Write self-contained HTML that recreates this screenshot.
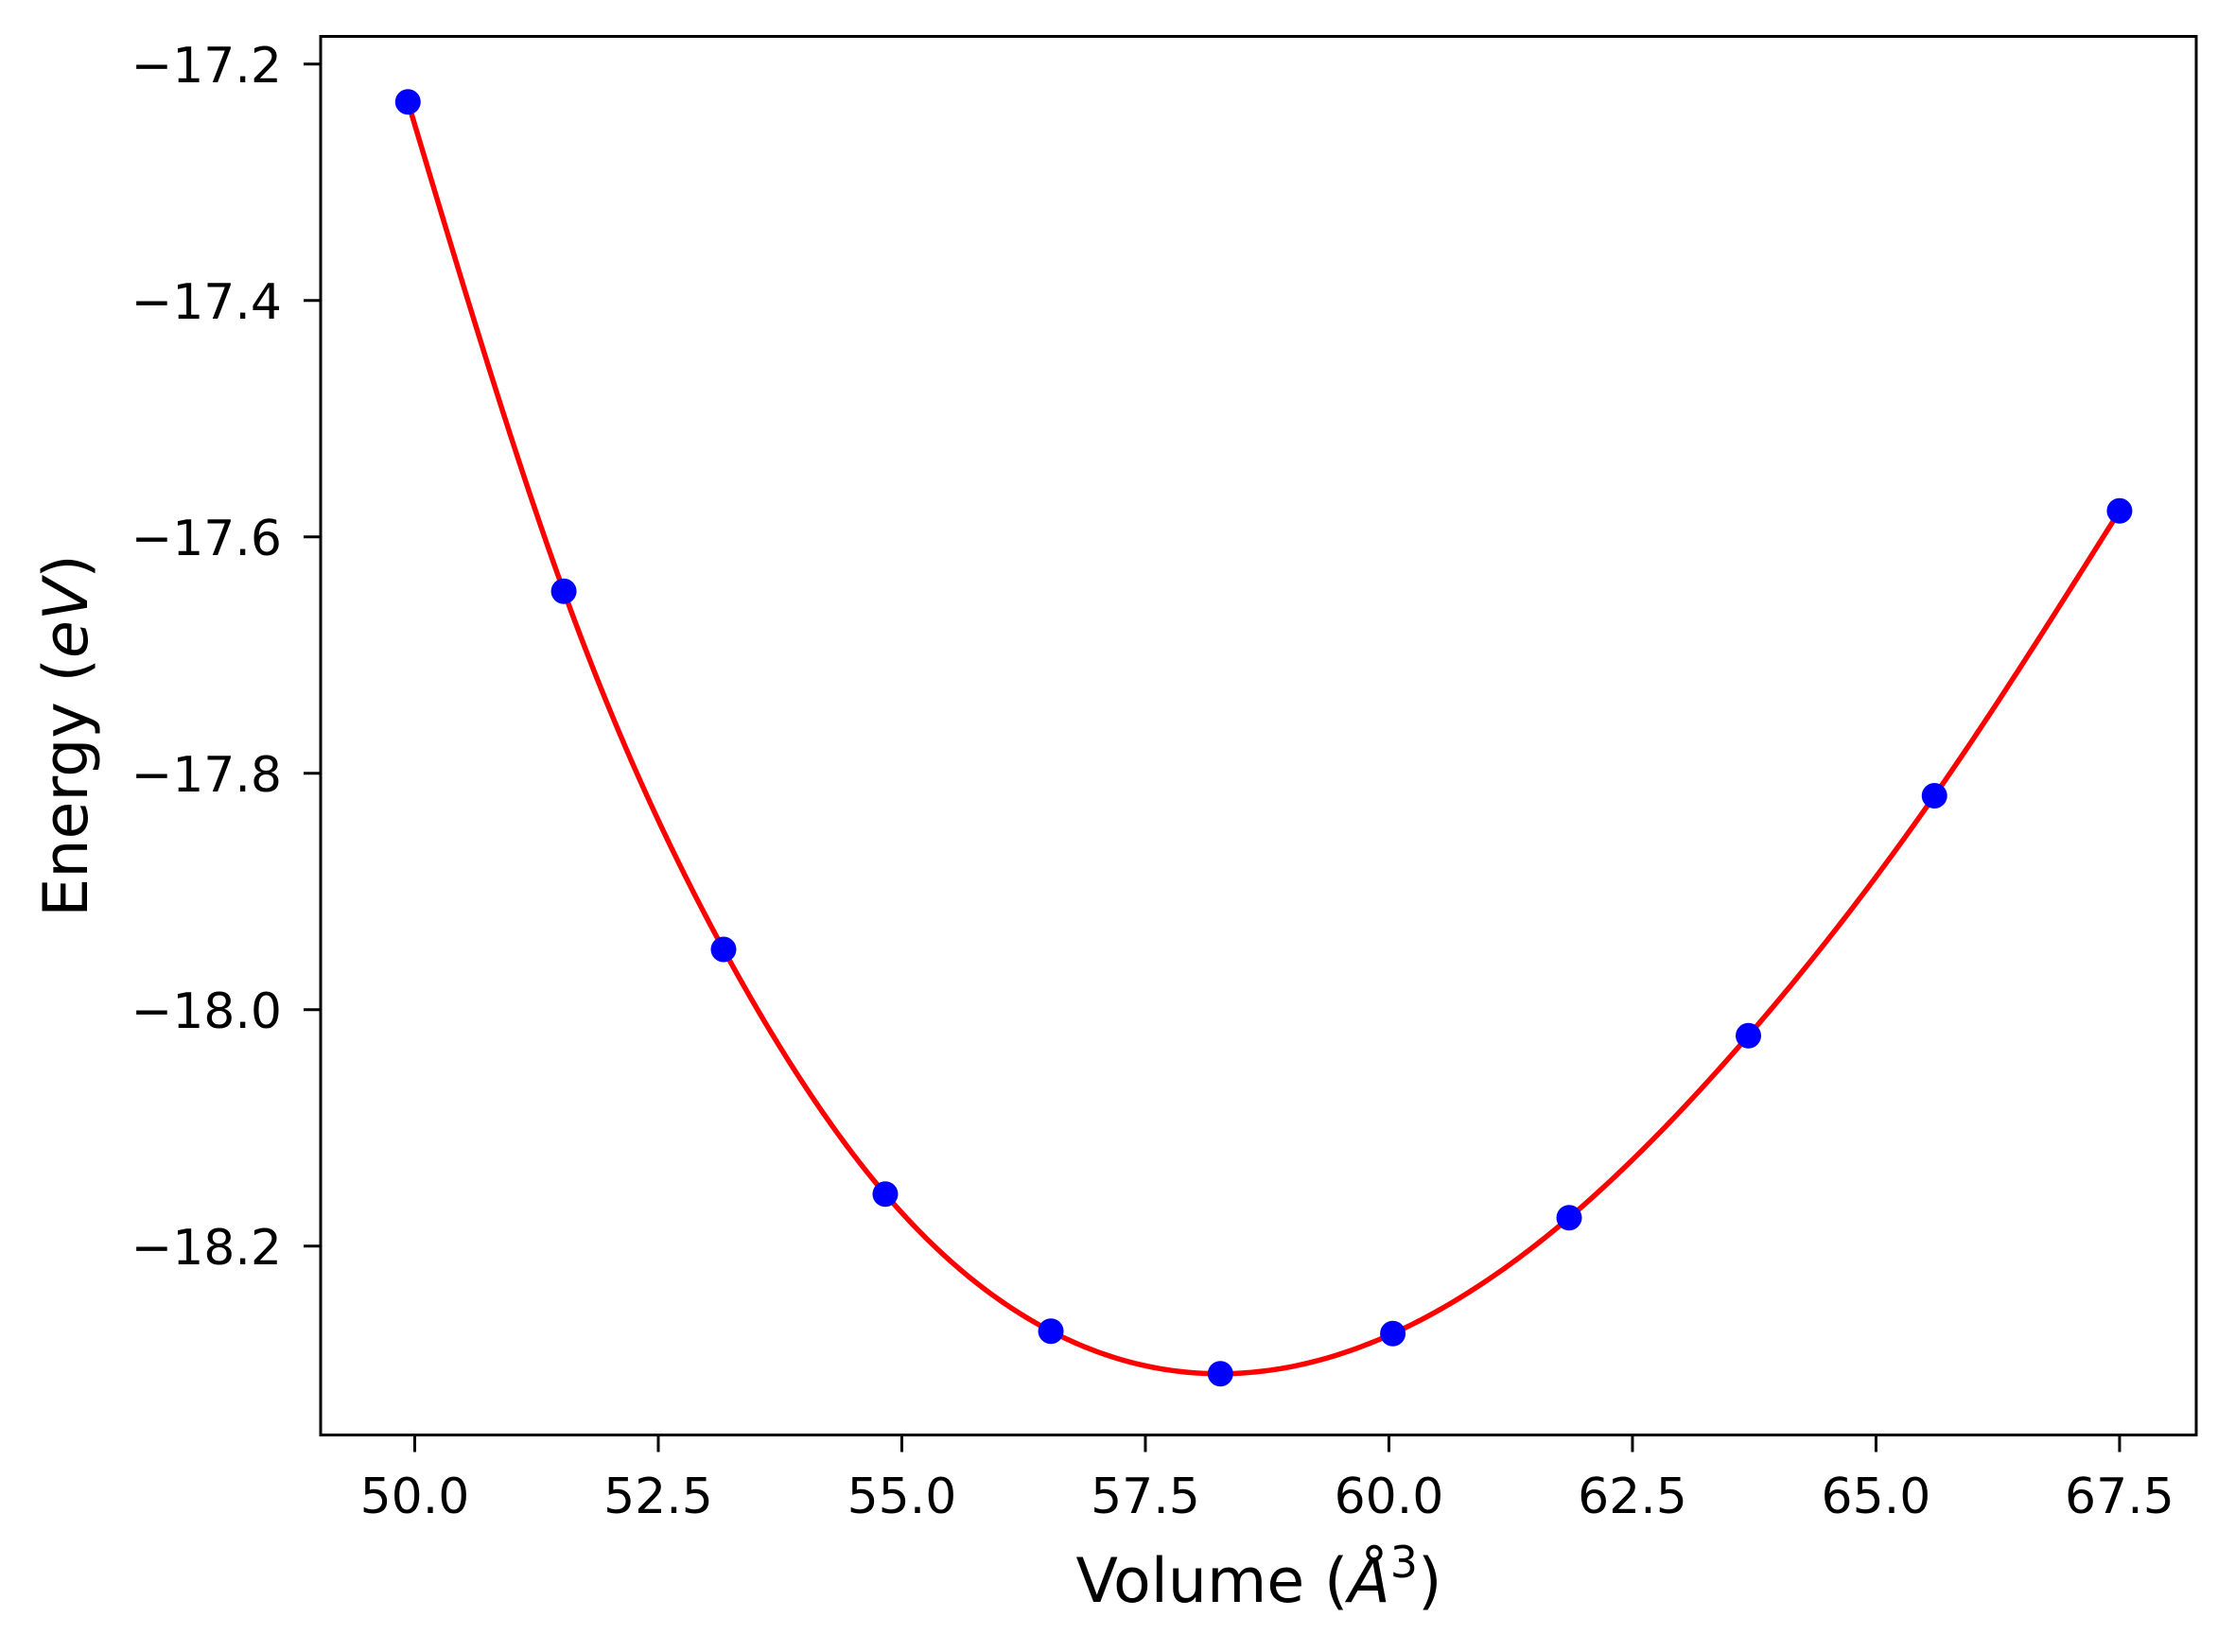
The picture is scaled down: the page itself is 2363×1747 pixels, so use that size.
<!DOCTYPE html>
<html><head><meta charset="utf-8"><style>
html,body{margin:0;padding:0;background:#fff;}
svg{display:block;font-family:"DejaVu Sans","Liberation Sans",sans-serif;}
</style></head><body>
<svg id="chart" width="2363" height="1747" viewBox="0 0 2363 1747" xmlns="http://www.w3.org/2000/svg">
<rect x="0" y="0" width="2363" height="1747" fill="#fff"/>
<g id="grid"></g>
<g id="series"></g>
<rect x="339" y="38.5" width="1983" height="1479" fill="none" stroke="#000" stroke-width="3"/>
<g id="axes"></g>
<text x="1331" y="1694" font-size="65" text-anchor="middle">Volume (<tspan font-style="italic">Å</tspan><tspan font-size="46" dy="-26">3</tspan><tspan dy="26">)</tspan></text>
<text transform="translate(92,778) rotate(-90)" font-size="65" text-anchor="middle">Energy (<tspan font-style="italic">eV</tspan>)</text>
</svg>
<script>
const volumes = [49.93, 51.53, 53.17, 54.83, 56.53, 58.27, 60.04, 61.85, 63.69, 65.60, 67.50];
const energies = [-17.232, -17.646, -17.949, -18.156, -18.272, -18.308, -18.274, -18.176, -18.022, -17.819, -17.578];
const xTicks = [50.0, 52.5, 55.0, 57.5, 60.0, 62.5, 65.0, 67.5];
const xTickLabels = ["50.0", "52.5", "55.0", "57.5", "60.0", "62.5", "65.0", "67.5"];
const yTicks = [-17.2, -17.4, -17.6, -17.8, -18.0, -18.2];
const yTickLabels = ["−17.2", "−17.4", "−17.6", "−17.8", "−18.0", "−18.2"];

const NS = "http://www.w3.org/2000/svg";
const X0 = 339, X1 = 2322, Y0 = 38.5, Y1 = 1517.5;
const xMin = 49.034, xMax = 68.287, yMin = -18.3598, yMax = -17.1766;
function xs(v){ return X0 + (v - xMin) / (xMax - xMin) * (X1 - X0); }
function ys(v){ return Y1 - (v - yMin) / (yMax - yMin) * (Y1 - Y0); }

const axes = document.getElementById('axes');
const series = document.getElementById('series');

xTicks.forEach((t, i) => {
  const l = document.createElementNS(NS, 'line');
  l.setAttribute('x1', xs(t)); l.setAttribute('x2', xs(t));
  l.setAttribute('y1', Y1); l.setAttribute('y2', Y1 + 18);
  l.setAttribute('stroke', '#000'); l.setAttribute('stroke-width', '3');
  
  
  axes.appendChild(l);
  const tx = document.createElementNS(NS, 'text');
  tx.setAttribute('x', xs(t)); tx.setAttribute('y', 1600);
  tx.setAttribute('font-size', '52'); tx.setAttribute('text-anchor', 'middle');
  tx.textContent = xTickLabels[i];
  
  
  axes.appendChild(tx);
});
yTicks.forEach((t, i) => {
  const l = document.createElementNS(NS, 'line');
  l.setAttribute('x1', X0 - 18); l.setAttribute('x2', X0);
  l.setAttribute('y1', ys(t)); l.setAttribute('y2', ys(t));
  l.setAttribute('stroke', '#000'); l.setAttribute('stroke-width', '3');
  
  
  axes.appendChild(l);
  const tx = document.createElementNS(NS, 'text');
  tx.setAttribute('x', 298); tx.setAttribute('y', ys(t) + 19);
  tx.setAttribute('font-size', '52'); tx.setAttribute('text-anchor', 'end');
  tx.textContent = yTickLabels[i];
  
  
  axes.appendChild(tx);
});

// natural cubic spline through the data for the fitted curve
function spline(xa, ya){
  const n = xa.length, h = [], al = [], l = [1], mu = [0], z = [0], c = new Array(n).fill(0), b = [], d = [];
  for (let i = 0; i < n - 1; i++) h.push(xa[i+1] - xa[i]);
  for (let i = 1; i < n - 1; i++) al[i] = 3/h[i]*(ya[i+1]-ya[i]) - 3/h[i-1]*(ya[i]-ya[i-1]);
  for (let i = 1; i < n - 1; i++) {
    l[i] = 2*(xa[i+1]-xa[i-1]) - h[i-1]*mu[i-1];
    mu[i] = h[i]/l[i];
    z[i] = (al[i] - h[i-1]*z[i-1]) / l[i];
  }
  for (let j = n - 2; j >= 0; j--) {
    c[j] = (j === n-2 ? 0 : z[j] - mu[j]*c[j+1]);
    if (j > 0 || true) {}
  }
  // recompute properly
  c[n-1] = 0;
  for (let j = n - 2; j >= 1; j--) c[j] = z[j] - mu[j]*c[j+1];
  c[0] = 0;
  for (let j = 0; j < n - 1; j++) {
    b[j] = (ya[j+1]-ya[j])/h[j] - h[j]*(c[j+1] + 2*c[j])/3;
    d[j] = (c[j+1]-c[j])/(3*h[j]);
  }
  return function(x){
    let j = 0;
    while (j < n - 2 && x > xa[j+1]) j++;
    const dx = x - xa[j];
    return ya[j] + b[j]*dx + c[j]*dx*dx + d[j]*dx*dx*dx;
  };
}
const f = spline(volumes, energies);
let dstr = '';
const vA = volumes[0], vB = volumes[volumes.length - 1];
for (let k = 0; k <= 400; k++) {
  const v = vA + (vB - vA) * k / 400;
  dstr += (k ? 'L' : 'M') + xs(v).toFixed(2) + ',' + ys(f(v)).toFixed(2);
}
const path = document.createElementNS(NS, 'path');
path.setAttribute('d', dstr);
path.setAttribute('fill', 'none'); path.setAttribute('stroke', '#ff0000');
path.setAttribute('stroke-width', '5.5');


series.appendChild(path);

volumes.forEach((v, i) => {
  const c = document.createElementNS(NS, 'circle');
  c.setAttribute('cx', xs(v)); c.setAttribute('cy', ys(energies[i]));
  c.setAttribute('r', '13.5'); c.setAttribute('fill', '#0000ff');
  
  
  series.appendChild(c);
});
</script>
</body></html>
